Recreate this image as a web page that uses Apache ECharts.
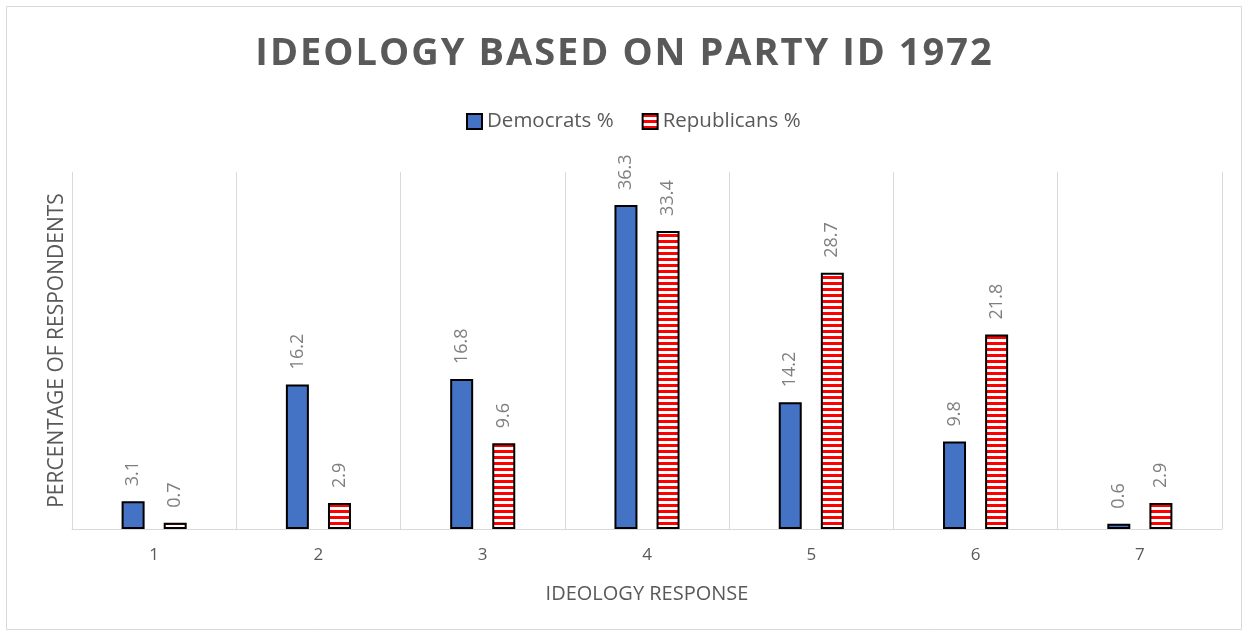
<!DOCTYPE html>
<html><head><meta charset="utf-8">
<script src="https://cdn.jsdelivr.net/npm/echarts@6/dist/echarts.min.js"></script>
<style>html,body{margin:0;padding:0;background:#fff}#c{width:1247px;height:635px}</style>
</head><body><div id="c"></div>
<script>
const categories = ['1','2','3','4','5','6','7'];
const democrats = [3.1, 16.2, 16.8, 36.3, 14.2, 9.8, 0.6];
const republicans = [0.7, 2.9, 9.6, 33.4, 28.7, 21.8, 2.9];
const seriesNames = ['Democrats %', 'Republicans %'];
const titleText = 'IDEOLOGY BASED ON PARTY ID 1972';

const pc = document.createElement('canvas');
pc.width = 6; pc.height = 6;
const ctx = pc.getContext('2d');
ctx.fillStyle = '#ffffff'; ctx.fillRect(0,0,6,6);
ctx.fillStyle = '#ff0000'; ctx.fillRect(0,0,6,3);
const stripe = {image: pc, repeat: 'repeat'};

const spacedRich = titleText.split('').map(ch => '{a|' + ch + '}').join('{s|\u200A}');
const FONT = '"Open Sans", sans-serif';
const chart = echarts.init(document.getElementById('c'));
const labelCfg = {show:true, position:'top', rotate:90, align:'left', verticalAlign:'middle', distance:15, color:'#7f7f7f', fontSize:18, fontFamily:FONT};
chart.setOption({
  animation:false,
  graphic:[{type:'rect', shape:{x:6.5,y:6.5,width:1235,height:623}, style:{fill:'none', stroke:'#d9d9d9', lineWidth:1}}],
  title:{text:spacedRich, left:'center', top:30, textStyle:{fontFamily:FONT, fontWeight:'bold', fontSize:38, color:'#595959',
    rich:{a:{fontFamily:FONT, fontWeight:'bold', fontSize:38, color:'#595959'}, s:{fontFamily:FONT, fontSize:20, color:'#595959'}}}},
  legend:{top:106, left:461, icon:'rect', itemWidth:15, itemHeight:15, itemGap:28, textStyle:{fontFamily:FONT, fontSize:20.5, color:'#595959'}},
  grid:{left:72, right:25, top:172, bottom:106},
  xAxis:{type:'category', data:categories, axisTick:{show:false}, axisLine:{lineStyle:{color:'#d9d9d9'}},
    splitLine:{show:true, lineStyle:{color:'#d9d9d9'}},
    axisLabel:{color:'#595959', fontSize:17, fontFamily:FONT, margin:18},
    name:'IDEOLOGY RESPONSE', nameLocation:'middle', nameGap:55, nameTextStyle:{color:'#595959', fontSize:20, fontFamily:FONT}},
  yAxis:{type:'value', min:0, max:40, show:true, axisLine:{show:false}, axisLabel:{show:false}, splitLine:{show:false}, axisTick:{show:false},
    name:'PERCENTAGE OF RESPONDENTS', nameLocation:'middle', nameGap:4, nameTextStyle:{color:'#595959', fontSize:21, fontFamily:FONT}},
  series:[
    {name:seriesNames[0], type:'bar', data:democrats, barWidth:23, barGap:'83%', itemStyle:{color:'#4472c4', borderColor:'#000', borderWidth:2}, label:labelCfg},
    {name:seriesNames[1], type:'bar', data:republicans, barWidth:23, itemStyle:{color:stripe, borderColor:'#000', borderWidth:2}, label:labelCfg}
  ]
});
</script></body></html>
